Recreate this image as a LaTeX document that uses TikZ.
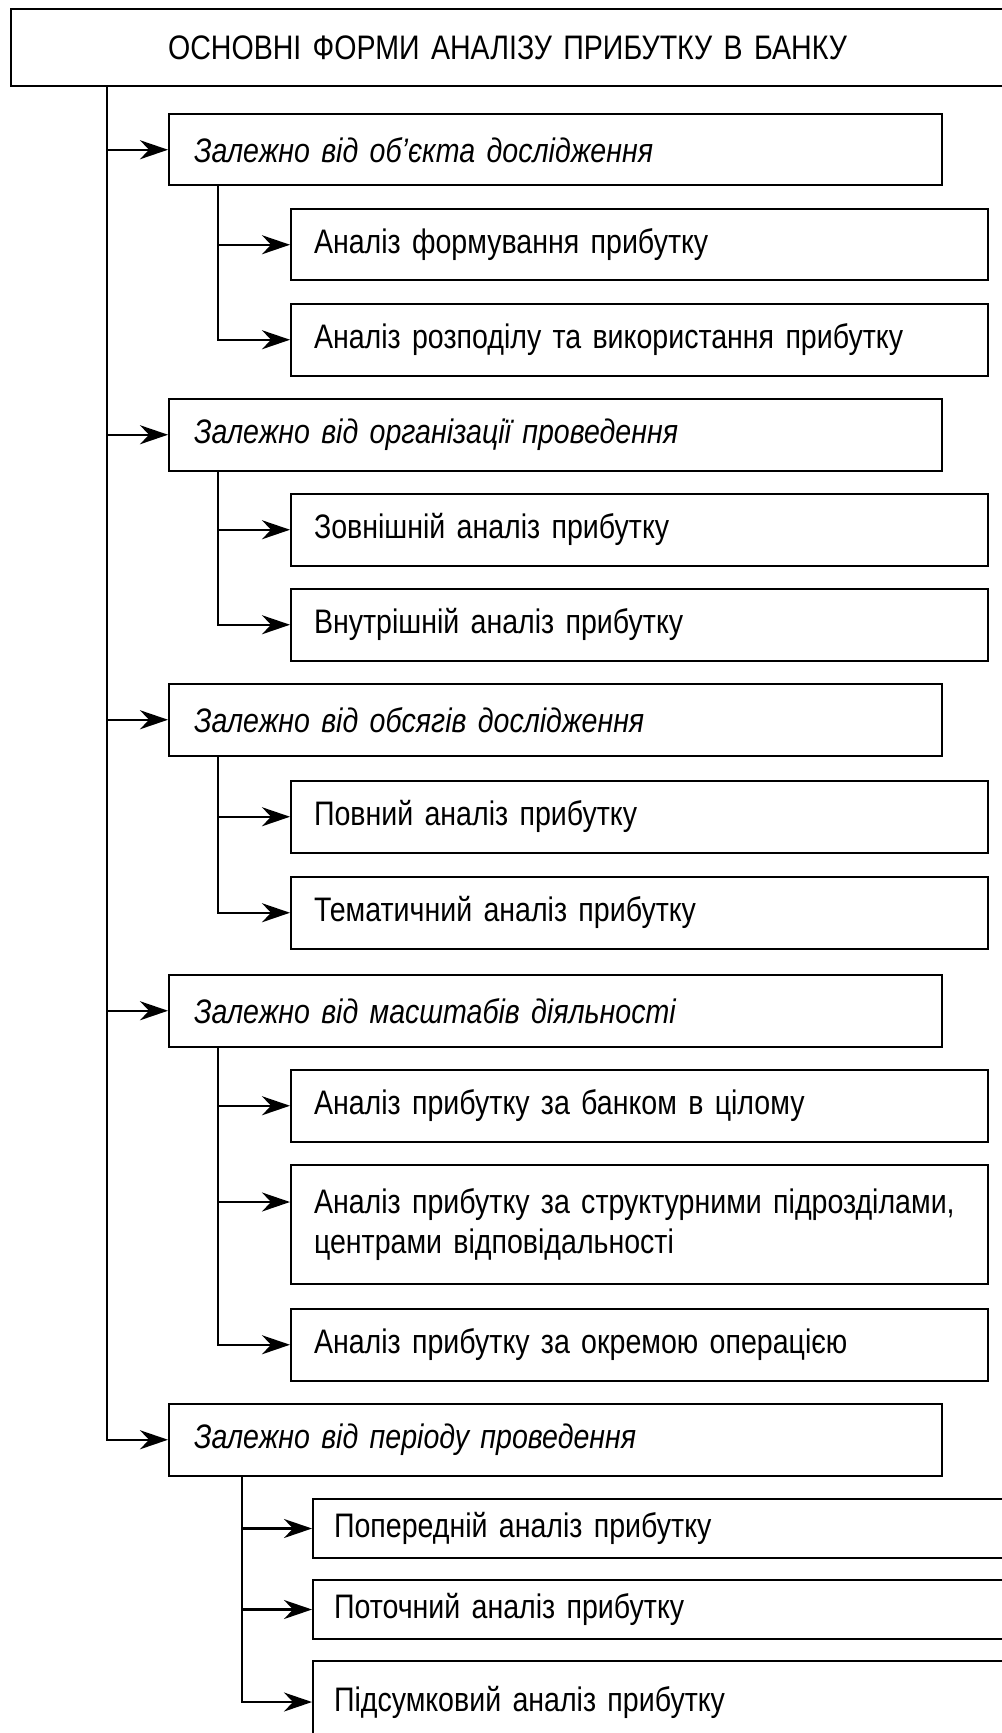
\documentclass[tikz,border=0pt]{standalone}
\usepackage{fontspec}
\setmainfont{Liberation Sans}[FakeStretch=0.84]
\usetikzlibrary{arrows.meta,calc}

\begin{document}
\begin{tikzpicture}[x=0.5pt, y=-0.5pt,
  every node/.style={font=\fontsize{17}{20}\selectfont},
  frame/.style={draw=black, line width=1pt, anchor=north west, align=left, inner ysep=0pt},
  headbox/.style={frame, align=center, inner xsep=0pt, text width=496.5pt, minimum height=38.5pt},
  kindbox/.style={frame, inner xsep=12.5pt, text width=361.5pt, minimum height=35.75pt,
                  font=\fontsize{17}{20}\selectfont\itshape},
  formbox/.style={frame, inner xsep=11.5pt, text width=325.5pt, minimum height=35.75pt},
  termbox/.style={frame, inner xsep=10.5pt, text width=329pt, minimum height=29.5pt},
  link/.style={draw=black, line width=1.1pt},
  arr/.style={link, -{Stealth[length=14pt, width=9.5pt, inset=4.5pt]}}]

\useasboundingbox (0,0) rectangle (1001,1733);
\fill[white] (0,0) rectangle (1001,1733);

% title
\node[headbox] (top) at (10,8) {ОСНОВНІ ФОРМИ АНАЛІЗУ ПРИБУТКУ В БАНКУ};

% classification criteria
\node[kindbox] (k1) at (168,113)  {Залежно від об’єкта дослідження};
\node[kindbox] (k2) at (168,398)  {Залежно від організації проведення};
\node[kindbox] (k3) at (168,683)  {Залежно від обсягів дослідження};
\node[kindbox] (k4) at (168,974)  {Залежно від масштабів діяльності};
\node[kindbox] (k5) at (168,1403) {Залежно від періоду проведення};

% forms of analysis
\node[formbox] (a1) at (290,208)  {Аналіз формування прибутку};
\node[formbox] (a2) at (290,303)  {Аналіз розподілу та використання прибутку};
\node[formbox] (b1) at (290,493)  {Зовнішній аналіз прибутку};
\node[formbox] (b2) at (290,588)  {Внутрішній аналіз прибутку};
\node[formbox] (c1) at (290,780)  {Повний аналіз прибутку};
\node[formbox] (c2) at (290,876)  {Тематичний аналіз прибутку};
\node[formbox] (d1) at (290,1069) {Аналіз прибутку за банком в цілому};
\node[formbox, minimum height=59.5pt] (d2) at (290,1164)
  {\mbox{Аналіз прибутку за структурними підрозділами,}\\ центрами відповідальності};
\node[formbox] (d3) at (290,1308) {Аналіз прибутку за окремою операцією};
\node[termbox] (e1) at (312,1498) {Попередній аналіз прибутку};
\node[termbox] (e2) at (312,1579) {Поточний аналіз прибутку};
\node[termbox, minimum height=41pt] (e3) at (312,1660) {Підсумковий аналіз прибутку};

% trunks
\coordinate (m)  at ([xshift=48.5pt]top.south west);
\coordinate (s1) at ([xshift=25pt]k1.south west);
\coordinate (s2) at ([xshift=25pt]k2.south west);
\coordinate (s3) at ([xshift=25pt]k3.south west);
\coordinate (s4) at ([xshift=25pt]k4.south west);
\coordinate (s5) at ([xshift=37pt]k5.south west);

% main branch
\draw[arr] (m) |- (k1.west);
\draw[arr] (m) |- (k2.west);
\draw[arr] (m) |- (k3.west);
\draw[arr] (m) |- (k4.west);
\draw[arr] (m) |- (k5.west);

% sub branches
\draw[arr] (s1) |- (a1.west);
\draw[arr] (s1) |- (a2.west);
\draw[arr] (s2) |- (b1.west);
\draw[arr] (s2) |- (b2.west);
\draw[arr] (s3) |- (c1.west);
\draw[arr] (s3) |- (c2.west);
\draw[arr] (s4) |- (d1.west);
\draw[arr] (s4) |- ([yshift=11.25pt]d2.west);
\draw[arr] (s4) |- (d3.west);
\draw[arr] (s5) |- (e1.west);
\draw[arr] (s5) |- (e2.west);
\draw[arr] (s5) |- (e3.west);

\end{tikzpicture}
\end{document}
